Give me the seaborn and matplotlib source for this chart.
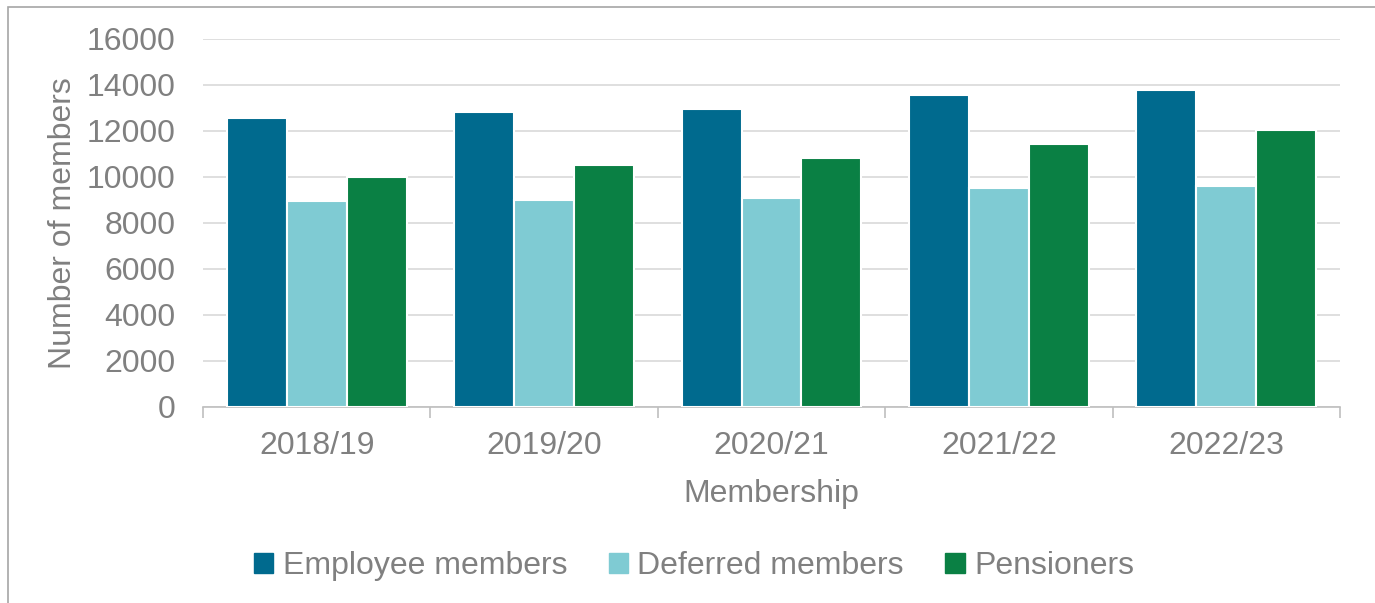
import matplotlib
matplotlib.use("Agg")
import matplotlib.pyplot as plt
import seaborn as sns
import pandas as pd
from matplotlib.patches import Rectangle
from matplotlib.ticker import FixedLocator

years = ["2018/19", "2019/20", "2020/21", "2021/22", "2022/23"]
series = ["Employee members", "Deferred members", "Pensioners"]
employee = [12560, 12810, 12960, 13580, 13800]
deferred = [8940, 8980, 9100, 9530, 9620]
pensioners = [9990, 10530, 10840, 11450, 12040]
colors = ["#006A8E", "#7FCBD3", "#0A8044"]

df = pd.DataFrame({
    "Year": years * 3,
    "Series": [series[0]] * 5 + [series[1]] * 5 + [series[2]] * 5,
    "Value": employee + deferred + pensioners,
})

sns.set_theme(style="white")
plt.rcParams["font.family"] = ["Liberation Sans", "DejaVu Sans"]
grey = "#808080"
fs = 23

fig = plt.figure(figsize=(13.75, 6.03), dpi=100)
ax = fig.add_axes([203/1375, 1-407/603, (1340-203)/1375, (407-39)/603])

sns.barplot(data=df, x="Year", y="Value", hue="Series", palette=colors,
            saturation=1, width=0.79, edgecolor="white", linewidth=1.5,
            ax=ax, zorder=3)

ax.set_ylim(0, 16000)
ax.set_xlim(-0.5, 4.5)
ax.set_yticks(range(0, 16001, 2000))
ax.grid(axis="y", color="#D9D9D9", linewidth=1.2, zorder=0)
ax.set_axisbelow(True)
for s in ["top", "right", "left"]:
    ax.spines[s].set_visible(False)
ax.spines["bottom"].set_color("#BFBFBF")
ax.spines["bottom"].set_linewidth(1.2)

ax.tick_params(axis="y", length=0, pad=20, labelsize=fs, labelcolor=grey)
ax.tick_params(axis="x", which="major", length=0, pad=17, labelsize=fs, labelcolor=grey)
ax.xaxis.set_minor_locator(FixedLocator([-0.5, 0.5, 1.5, 2.5, 3.5, 4.5]))
ax.tick_params(axis="x", which="minor", bottom=True, length=8, width=1.2,
               color="#BFBFBF", direction="out")

ax.set_xlabel("Membership", fontsize=fs, color=grey, labelpad=13)
ax.set_ylabel("Number of members", fontsize=fs, color=grey, labelpad=6)

ax.legend_.remove()
handles = [Rectangle((0, 0), 1, 1, color=c) for c in colors]
fig.legend(handles, series, loc="center", bbox_to_anchor=(694/1375, 1-566/603), ncol=3,
           frameon=False, fontsize=fs, labelcolor=grey, handlelength=0.6,
           handleheight=0.6, handletextpad=0.3, columnspacing=1.3)

fig.patches.append(Rectangle((8/1375, -0.1), 1.2, 1-7/603+0.1, transform=fig.transFigure,
                             fill=False, edgecolor="#A6A6A6", linewidth=1.2))

fig.savefig("out.png", dpi=100)
